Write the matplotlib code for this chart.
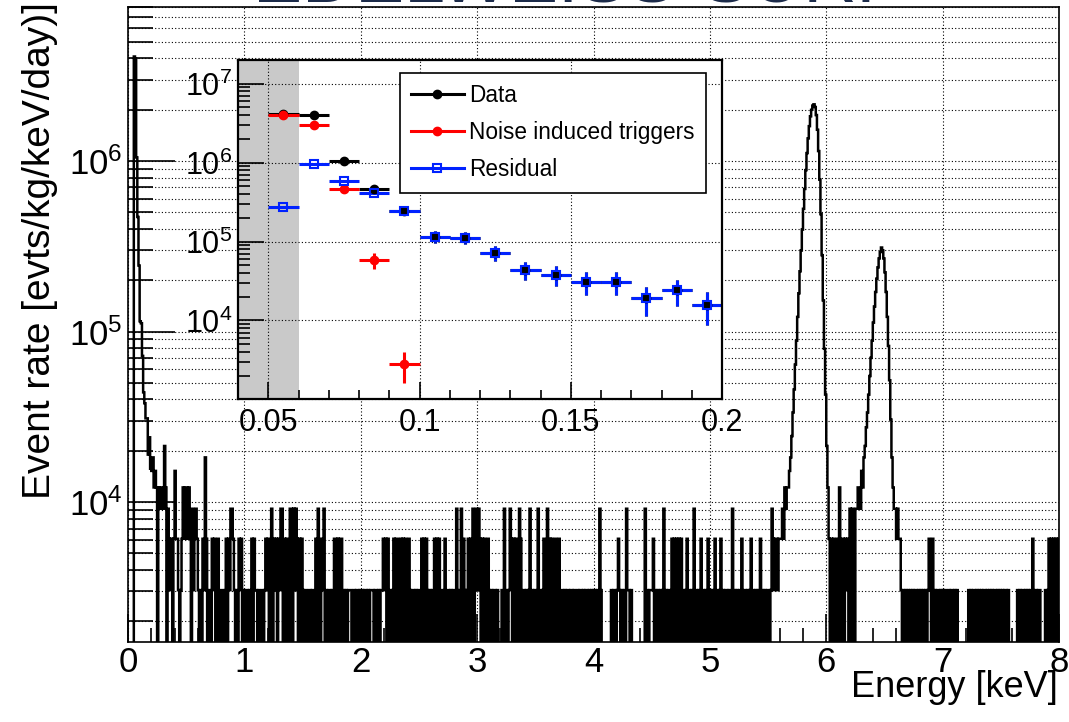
import numpy as np
import matplotlib
matplotlib.use('Agg')
import matplotlib.pyplot as plt
from matplotlib.lines import Line2D
from matplotlib.ticker import (MultipleLocator, FixedLocator, LogLocator,
                               NullFormatter, FuncFormatter)

plt.rcParams['font.family'] = ['Liberation Sans', 'DejaVu Sans']
plt.rcParams['mathtext.fontset'] = 'custom'
plt.rcParams['mathtext.rm'] = 'Liberation Sans'
plt.rcParams['mathtext.it'] = 'Liberation Sans:italic'
plt.rcParams['mathtext.bf'] = 'Liberation Sans:bold'

# ---------------- data ----------------
bin_width = 0.01            # keV
rate_per_count = 3050.0     # evts/kg/keV/day for a single event in one bin

# inset : bins between 0.05 and 0.20 keV
inset_x = [0.055, 0.065, 0.075, 0.085, 0.095, 0.105, 0.115, 0.125,
           0.135, 0.145, 0.155, 0.165, 0.175, 0.185, 0.195]
data_rate = [4.1e6, 4.0e6, 1.05e6, 4.7e5, 2.44e5, 1.15e5, 1.12e5, 7.2e4,
             4.4e4, 3.8e4, 3.1e4, 3.1e4, 1.9e4, 2.4e4, 1.57e4]
data_err = [1.1e5, 1.1e5, 5.7e4, 3.8e4, 2.7e4, 1.9e4, 1.85e4, 1.5e4,
            1.15e4, 1.1e4, 9.7e3, 9.7e3, 7.6e3, 8.6e3, 6.9e3]
noise_x = [0.055, 0.065, 0.075, 0.085, 0.095]
noise_rate = [3.96e6, 3.0e6, 4.7e5, 5.8e4, 2.8e3]
noise_err = [1.1e5, 9.6e4, 3.8e4, 1.3e4, 1.2e3]
resid_rate = [2.7e5, 9.6e5, 5.9e5, 4.1e5, 2.41e5, 1.15e5, 1.12e5, 7.2e4,
              4.4e4, 3.8e4, 3.1e4, 3.1e4, 1.9e4, 2.4e4, 1.57e4]
resid_err = [0, 0, 0, 0, 2.7e4, 1.9e4, 1.85e4, 1.5e4,
             1.15e4, 1.1e4, 9.7e3, 9.7e3, 7.6e3, 8.6e3, 6.9e3]

# main spectrum, 0.01 keV bins from 0 to 8 keV
n_below_threshold = 5       # 0.00 - 0.04 keV : empty
# 0.05 - 0.19 keV : same bins as the inset "Data"
# 0.20 - 0.39 keV (counts)
low_tail_counts = [5, 6, 4, 5, 4, 0, 4, 3, 4, 3, 3, 7, 4, 0, 3, 2, 1, 2, 0, 2]
# 0.40 - 5.59 keV (counts, one string per 0.1 keV)
bg_counts = [
    "5221012424", "4242031232", "1010216201", "1021201201", "1001202133",
    "2101021201", "0110102021", "1010010121", "2013021202", "1330202103",
    "3031320202", "1010011010", "0203201230", "1011010220", "2022010101",
    "1100101101", "0101101011", "1011010112", "1202010120", "2201202020",
    "0210110101", "1020202101", "0102020201", "1020110101", "1030103021",
    "0120203013", "1320202102", "1010110100", "0103010132", "0202103201",
    "1010130101", "1030101201", "3020201201", "2011010110", "1101001011",
    "0101101010", "1101031000", "0000010110", "1210101031", "1010000000",
    "0000301011", "1201010101", "3010110202", "0202020101", "2010103010",
    "1020101020", "1010201012", "0101101003", "0101010201", "1010120101",
    "0102010101", "1013212212",
]
# 5.60 - 6.67 keV (counts) : Mn K-alpha and K-beta lines
peak_counts = [
    2, 2, 3, 2, 4, 3, 4, 4, 5, 6,
    8, 11, 15, 21, 29, 40, 55, 74, 98, 130,
    172, 225, 290, 365, 445, 525, 600, 655, 693, 705,
    680, 610, 500, 375, 255, 160, 92, 50, 26, 14,
    7, 4, 2, 0, 2, 0, 2, 1, 0, 2,
    0, 4, 0, 2, 2, 0, 2, 1, 2, 0,
    3, 0, 3, 2, 0, 3, 3, 4, 4, 3,
    5, 4, 6, 7, 9, 11, 14, 18, 23, 29,
    37, 46, 56, 67, 78, 88, 96, 102, 98, 88,
    73, 56, 40, 27, 17, 10, 6, 4, 3, 3,
    2, 3, 2, 2, 1, 0, 1, 0,
]
# 6.68 - 7.99 keV (counts)
tail_counts = [
    "10", "1010101101", "0101010121", "0201011010", "1010010110",
    "1010000000", "0010101101", "0101011010", "1010110101", "0101101000",
    "0000101011", "0101010201", "1011000010", "1202020202",
]

x_ticks_inset = [0.05, 0.1, 0.15, 0.2]
x_tick_labels_inset = ["0.05", "0.1", "0.15", "0.2"]

# ---------------- build the histogram ----------------
def digits(groups):
    return np.array([int(c) for c in ''.join(groups)], dtype=float)

spectrum = np.concatenate([
    np.zeros(n_below_threshold),
    np.array(data_rate),
    np.array(low_tail_counts, dtype=float) * rate_per_count,
    digits(bg_counts) * rate_per_count,
    np.array(peak_counts, dtype=float) * rate_per_count,
    digits(tail_counts) * rate_per_count,
])
edges = np.arange(len(spectrum) + 1) * bin_width
# empty bins fall out of the bottom of the log axis, as in ROOT
spectrum_plot = np.where(spectrum > 0, spectrum, 1.0)

# ---------------- figure ----------------
W, H = 1069, 722
fig = plt.figure(figsize=(W / 100, H / 100), dpi=100)
dot = (0, (1, 2))

ax = fig.add_axes([128 / W, 1 - 641.7 / H, 931 / W, 634.7 / H])
ax.set_axisbelow(True)
ax.stairs(spectrum_plot, edges, color='black', lw=1.8, baseline=None)
ax.set_yscale('log')
ax.set_xlim(0, 8)
ax.set_ylim(1520, 8e6)

ax.xaxis.set_major_locator(MultipleLocator(1))
ax.xaxis.set_minor_locator(MultipleLocator(0.2))
ax.yaxis.set_major_locator(LogLocator(base=10, numticks=20))
ax.yaxis.set_minor_locator(LogLocator(base=10, subs=np.arange(2, 10), numticks=20))
ax.yaxis.set_minor_formatter(NullFormatter())
ax.tick_params(which='both', direction='in', width=1.2, colors='black')
ax.tick_params(axis='x', which='major', length=20, labelsize=25, pad=3)
ax.tick_params(axis='x', which='minor', length=10)
ax.tick_params(axis='y', which='major', length=34, labelsize=25, pad=4)
ax.tick_params(axis='y', which='minor', length=18)
ax.grid(axis='x', which='major', ls=dot, color='black', lw=0.8)
ax.grid(axis='y', which='both', ls=dot, color='black', lw=0.8)
for s in ax.spines.values():
    s.set_linewidth(1.2)

fig.text(1058 / W, 1 - 697 / H, 'Energy [keV]', fontsize=26,
         ha='right', va='baseline')
fig.text(40 / W, 1 - 2 / H, 'Event rate [evts/kg/keV/day)]', fontsize=28,
         rotation=90, ha='center', va='top')

# slide title, only its lower edge is left in the picture
fig.text(253 / W, 1 - 2 / H, 'EDELWEISS-SURF', fontsize=53,
         color='#1c2b4a', ha='left', va='baseline')

# ---------------- inset ----------------
axi = fig.add_axes([238 / W, 1 - 399.3 / H, 484 / W, 339.3 / H])
axi.set_facecolor('white')
axi.set_axisbelow(True)
axi.set_yscale('log')
axi.set_xlim(0.04, 0.2)
axi.set_ylim(1e3, 2e7)
axi.axvspan(0.04, 0.06, color='#c9c9c9', lw=0, zorder=0)

ebar = dict(xerr=bin_width / 2, capsize=0, lw=2.2, ms=6, ls='none')
axi.errorbar(inset_x, data_rate, yerr=data_err, fmt='o', color='black', **ebar)
axi.errorbar(noise_x, noise_rate, yerr=noise_err, fmt='o', color='#ff0000', **ebar)
axi.errorbar(inset_x, resid_rate, yerr=resid_err, fmt='s', color='#0022ff',
             mfc='none', mew=1.5, **ebar)

axi.xaxis.set_major_locator(FixedLocator(x_ticks_inset))
axi.xaxis.set_major_formatter(FuncFormatter(
    lambda v, p: x_tick_labels_inset[x_ticks_inset.index(round(v, 2))]
    if round(v, 2) in x_ticks_inset else ''))
axi.xaxis.set_minor_locator(MultipleLocator(0.01))
axi.yaxis.set_major_locator(FixedLocator([1e4, 1e5, 1e6, 1e7]))
axi.yaxis.set_major_formatter(FuncFormatter(
    lambda v, p: r'$\mathdefault{10^{%d}}$' % round(np.log10(v))))
axi.yaxis.set_minor_locator(LogLocator(base=10, subs=np.arange(2, 10), numticks=20))
axi.yaxis.set_minor_formatter(NullFormatter())
axi.tick_params(which='both', direction='in', width=1.2, colors='black')
axi.tick_params(axis='x', which='major', length=12, labelsize=22, pad=6)
axi.tick_params(axis='x', which='minor', length=6.5)
axi.tick_params(axis='y', which='major', length=19, labelsize=22, pad=4)
axi.tick_params(axis='y', which='minor', length=8.5)
axi.grid(which='major', ls=dot, color='black', lw=0.8)
for s in axi.spines.values():
    s.set_linewidth(1.6)

handles = [
    Line2D([], [], color='black', marker='o', lw=2.2, ms=6),
    Line2D([], [], color='#ff0000', marker='o', lw=2.2, ms=6),
    Line2D([], [], color='#0022ff', marker='s', mfc='none', mew=1.5, lw=2.2, ms=6),
]
leg = axi.legend(handles, ['Data', 'Noise induced triggers', 'Residual'],
                 loc='upper left', bbox_to_anchor=(0.335, 0.962),
                 borderaxespad=0, fontsize=16.3, handlelength=2.3,
                 handletextpad=0.25, borderpad=0.5, labelspacing=0.62,
                 fancybox=False, framealpha=1, edgecolor='black')
leg.get_frame().set_linewidth(1.2)

fig.savefig('out.png', dpi=100, facecolor='white')
